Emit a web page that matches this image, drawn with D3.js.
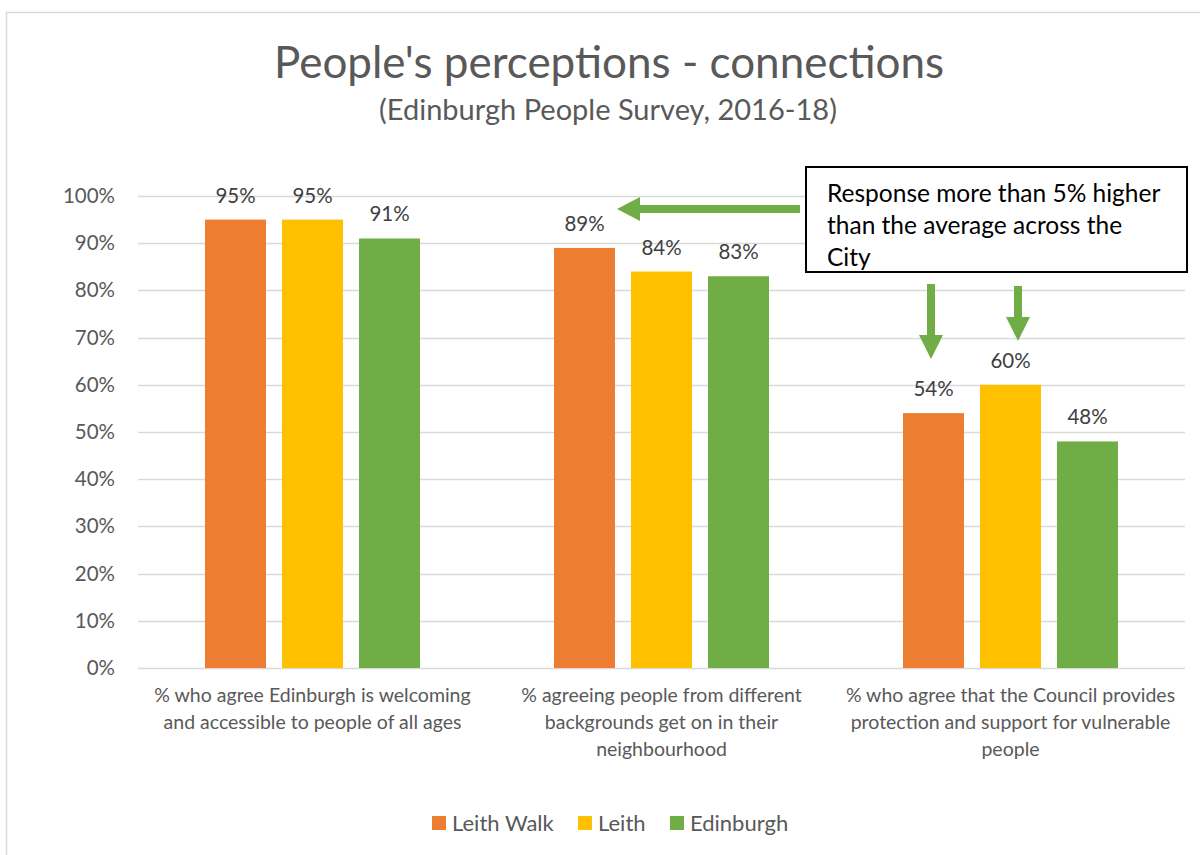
<!DOCTYPE html>
<html>
<head>
<meta charset="utf-8">
<script src="https://cdn.jsdelivr.net/npm/d3@7"></script>
<style>
  html, body { margin: 0; padding: 0; background: #fff; }
  svg { display: block; font-family: Lato, "Open Sans", sans-serif; }
</style>
</head>
<body>
<svg id="chart" width="1200" height="855"></svg>
<script>
const categories = [
  "% who agree Edinburgh is welcoming\nand accessible to people of all ages",
  "% agreeing people from different\nbackgrounds get on in their\nneighbourhood",
  "% who agree that the Council provides\nprotection and support for vulnerable\npeople"
];
const seriesNames = ["Leith Walk", "Leith", "Edinburgh"];
const leithWalk = [95, 89, 54];
const leith = [95, 84, 60];
const edinburgh = [91, 83, 48];
const yTicks = [0, 10, 20, 30, 40, 50, 60, 70, 80, 90, 100];
const colors = ["#ED7D31", "#FFC000", "#70AD47"];
const titleText = "People's perceptions - connections";
const subtitleText = "(Edinburgh People Survey, 2016-18)";
const noteText = ["Response more than 5% higher", "than the average across the", "City"];

const series = [leithWalk, leith, edinburgh];
const svg = d3.select("#chart");

// outer border
svg.append("rect").attr("x", 6.5).attr("y", 12.5).attr("width", 1200).attr("height", 860)
  .attr("fill", "#fff").attr("stroke", "#D9D9D9").attr("stroke-width", 1.5);

// titles
svg.append("text").attr("x", 609).attr("y", 78).attr("text-anchor", "middle")
  .attr("font-size", 44).attr("fill", "#595959").text(titleText);
svg.append("text").attr("x", 608).attr("y", 120).attr("text-anchor", "middle")
  .attr("font-size", 29).attr("fill", "#595959").text(subtitleText);

const x = d3.scaleBand().domain(d3.range(categories.length)).range([138, 1185]).padding(0);
const xInner = d3.scaleBand().domain(seriesNames).range([67, 282]).paddingInner(0.208).paddingOuter(0);
const y = d3.scaleLinear().domain([0, 100]).range([668, 196]);

// gridlines
svg.append("g").selectAll("line").data(yTicks).join("line")
  .attr("x1", 138).attr("x2", 1185)
  .attr("y1", d => Math.round(y(d)) + 0.5).attr("y2", d => Math.round(y(d)) + 0.5)
  .attr("stroke", "#D9D9D9").attr("stroke-width", 1.5);

// y axis labels
const yAxis = d3.axisLeft(y).tickValues(yTicks).tickFormat(d => d + "%").tickSize(0).tickPadding(0);
const gy = svg.append("g").attr("transform", "translate(115,0)").call(yAxis);
gy.select(".domain").remove();
gy.selectAll("text").attr("font-size", 20.5).attr("fill", "#595959").attr("font-family", "Lato, sans-serif");

// bars
const groups = svg.append("g").selectAll("g").data(categories).join("g")
  .attr("transform", (d, i) => `translate(${x(i)},0)`);
groups.each(function(c, i) {
  const g = d3.select(this);
  seriesNames.forEach((s, k) => {
    const v = series[k][i];
    g.append("rect").attr("x", xInner(s)).attr("y", y(v))
      .attr("width", xInner.bandwidth()).attr("height", y(0) - y(v))
      .attr("fill", colors[k]);
    g.append("text").attr("x", xInner(s) + xInner.bandwidth() / 2).attr("y", y(v) - 17)
      .attr("text-anchor", "middle").attr("font-size", 20.5).attr("fill", "#404040")
      .text(v + "%");
  });
  // category label
  const lines = c.split("\n");
  const t = g.append("text").attr("text-anchor", "middle").attr("font-size", 19.5).attr("fill", "#595959");
  lines.forEach((ln, j) => {
    t.append("tspan").attr("x", x.bandwidth() / 2).attr("y", 702 + j * 27).text(ln);
  });
});

// legend
const legendItems = [
  { name: seriesNames[0], sx: 432 },
  { name: seriesNames[1], sx: 578 },
  { name: seriesNames[2], sx: 670 }
];
const lg = svg.append("g");
legendItems.forEach((it, k) => {
  lg.append("rect").attr("x", it.sx).attr("y", 816).attr("width", 14).attr("height", 14).attr("fill", colors[k]);
  lg.append("text").attr("x", it.sx + 20).attr("y", 831).attr("font-size", 22).attr("fill", "#595959").text(it.name);
});

// annotation box
svg.append("rect").attr("x", 806).attr("y", 167).attr("width", 381).attr("height", 105)
  .attr("fill", "#fff").attr("stroke", "#000").attr("stroke-width", 2);
const nt = svg.append("text").attr("font-size", 24.5).attr("fill", "#000");
noteText.forEach((ln, j) => nt.append("tspan").attr("x", 827).attr("y", 202 + j * 32).text(ln));

// arrows
const green = "#70AD47";
function arrowDown(cx, top, headTop, tip) {
  svg.append("path").attr("fill", green).attr("d",
    `M${cx - 4},${top} L${cx + 4},${top} L${cx + 4},${headTop} L${cx + 12},${headTop} L${cx},${tip} L${cx - 12},${headTop} L${cx - 4},${headTop} Z`);
}
arrowDown(931, 284, 335, 359);
arrowDown(1018, 286, 317, 341);
svg.append("path").attr("fill", green).attr("d",
  `M800,205 L800,213 L640,213 L640,221 L617,209 L640,197 L640,205 Z`);
</script>
</body>
</html>
